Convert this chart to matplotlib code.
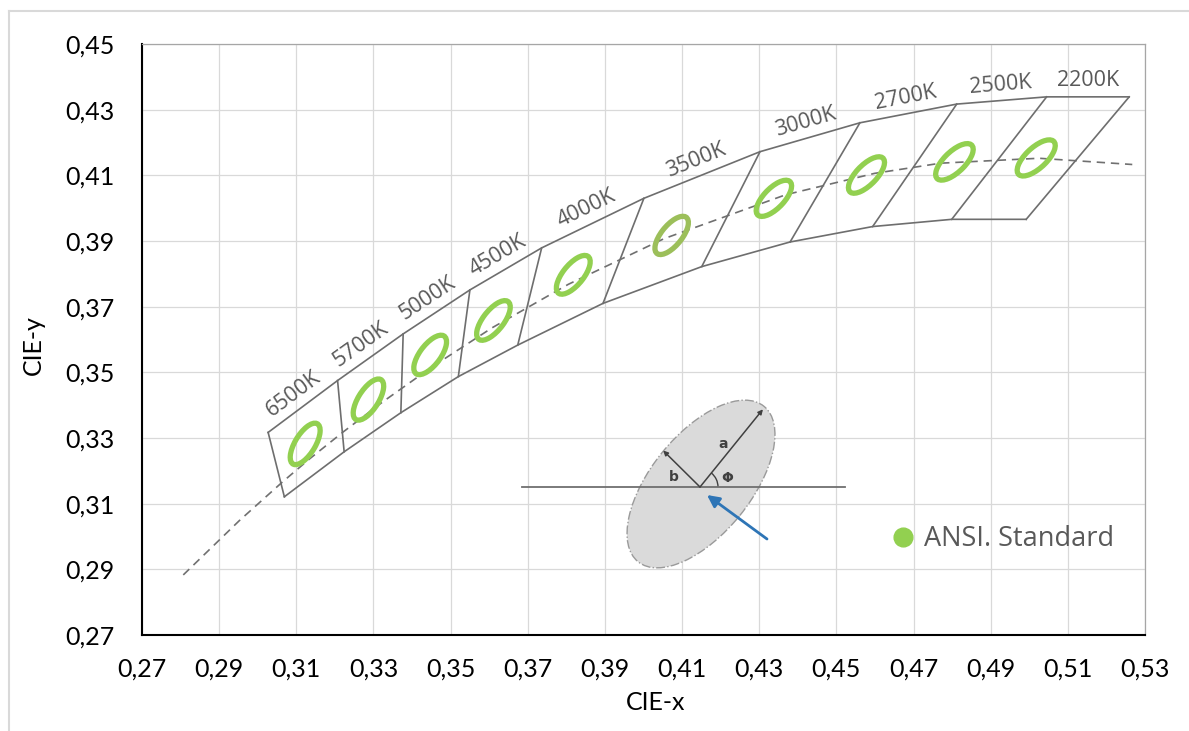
import numpy as np
import matplotlib
matplotlib.use("Agg")
import matplotlib.pyplot as plt
from matplotlib.patches import Ellipse, Arc
from matplotlib.lines import Line2D

# CCT bins (ANSI quadrangles)
cct_labels = ["6500K", "5700K", "5000K", "4500K", "4000K",
              "3500K", "3000K", "2700K", "2500K", "2200K"]

# upper and lower corners of the quadrangles, cold -> warm
top_x = [0.3027, 0.3207, 0.3377, 0.3550, 0.3736, 0.4001, 0.4302, 0.4561, 0.4812, 0.5045, 0.5259]
top_y = [0.3317, 0.3475, 0.3617, 0.3751, 0.3879, 0.4030, 0.4172, 0.4260, 0.4317, 0.4339, 0.4339]
bot_x = [0.3069, 0.3224, 0.3371, 0.3520, 0.3674, 0.3895, 0.4151, 0.4380, 0.4594, 0.4799, 0.4992]
bot_y = [0.3121, 0.3258, 0.3377, 0.3487, 0.3583, 0.3710, 0.3822, 0.3897, 0.3944, 0.3966, 0.3966]

# ellipses: centre, semi axes and tilt (data units / degrees)
ell_x = [0.3123, 0.3287, 0.3447, 0.3611, 0.3818, 0.4073, 0.4338, 0.4578, 0.4806, 0.5018]
ell_y = [0.3282, 0.3417, 0.3553, 0.3658, 0.3797, 0.3917, 0.4030, 0.4101, 0.4141, 0.4153]
ell_a = [0.0069, 0.0069, 0.0068, 0.0069, 0.0068, 0.0067, 0.0066, 0.0067, 0.0068, 0.0068]
ell_b = [0.0027, 0.0027, 0.0028, 0.0028, 0.0028, 0.0028, 0.0028, 0.0028, 0.0029, 0.0029]
ell_ang = [64, 63, 59, 58, 57, 57, 52.5, 52, 50.5, 49.5]
ell_col = ["#92d050"] * 5 + ["#9cbf5a"] + ["#92d050"] * 4

# planckian locus (dashed)
locus_x = [0.2807, 0.2952, 0.3064, 0.3135, 0.3221, 0.3324, 0.3451, 0.3608,
           0.3805, 0.4053, 0.4369, 0.4599, 0.4770, 0.5025, 0.5267]
locus_y = [0.2883, 0.3048, 0.3166, 0.3237, 0.3318, 0.3410, 0.3516, 0.3636,
           0.3768, 0.3907, 0.4041, 0.4106, 0.4137, 0.4152, 0.4133]

x_ticks = [0.27, 0.29, 0.31, 0.33, 0.35, 0.37, 0.39, 0.41, 0.43, 0.45, 0.47, 0.49, 0.51, 0.53]
x_ticklabels = ["0,27", "0,29", "0,31", "0,33", "0,35", "0,37", "0,39",
                "0,41", "0,43", "0,45", "0,47", "0,49", "0,51", "0,53"]
y_ticks = [0.27, 0.29, 0.31, 0.33, 0.35, 0.37, 0.39, 0.41, 0.43, 0.45]
y_ticklabels = ["0,27", "0,29", "0,31", "0,33", "0,35", "0,37", "0,39", "0,41", "0,43", "0,45"]

# schematic ellipse in the inset (pixels): semi axes and angle
sk_a, sk_b, sk_phi = 100, 50, 51

W, H = 1189, 731
fig = plt.figure(figsize=(W / 100, H / 100), dpi=100)
ax = fig.add_axes([142 / W, 1 - 635 / H, 1003 / W, 591 / H])
ax.set_xlim(0.27, 0.53)
ax.set_ylim(0.27, 0.45)
ax.set_xticks(x_ticks)
ax.set_xticklabels(x_ticklabels)
ax.set_yticks(y_ticks)
ax.set_yticklabels(y_ticklabels)
ax.tick_params(length=0, labelsize=18)
ax.tick_params(axis="x", pad=16)
ax.tick_params(axis="y", pad=20)
for lab in ax.get_xticklabels() + ax.get_yticklabels():
    lab.set_family("Lato")
ax.grid(color="#d9d9d9", lw=0.9)
ax.set_axisbelow(True)
for s in ["left", "bottom"]:
    ax.spines[s].set_color("black")
    ax.spines[s].set_linewidth(1.5)
for s in ["top", "right"]:
    ax.spines[s].set_color("#a6a6a6")
    ax.spines[s].set_linewidth(0.9)

# locus
ax.plot(locus_x, locus_y, color="#707070", lw=1.2, ls=(0, (5, 3.5)), zorder=2)

# quadrangles
edge = "#6e6e6e"
ax.plot(top_x, top_y, color=edge, lw=1.2, zorder=3)
ax.plot(bot_x, bot_y, color=edge, lw=1.2, zorder=3)
for i in range(len(top_x)):
    ax.plot([top_x[i], bot_x[i]], [top_y[i], bot_y[i]], color=edge, lw=1.2, zorder=3)

# ellipses
for i in range(len(ell_x)):
    e = Ellipse((ell_x[i], ell_y[i]), 2 * ell_a[i], 2 * ell_b[i], angle=ell_ang[i],
                fill=False, ec=ell_col[i], lw=3.8, zorder=4)
    ax.add_patch(e)

# CCT labels above the top edge
fig.canvas.draw()
for i, lab in enumerate(cct_labels):
    p1 = ax.transData.transform((top_x[i], top_y[i]))
    p2 = ax.transData.transform((top_x[i + 1], top_y[i + 1]))
    ang = np.arctan2(p2[1] - p1[1], p2[0] - p1[0])
    mx = (top_x[i] + top_x[i + 1]) / 2
    my = (top_y[i] + top_y[i + 1]) / 2
    off = 16 * 0.72
    ax.annotate(lab, (mx, my), xytext=(-off * np.sin(ang), off * np.cos(ang)),
                textcoords="offset points", ha="center", va="center",
                rotation=np.degrees(ang), rotation_mode="anchor",
                fontsize=15.5, color="#595959", family="Open Sans", zorder=5)

# legend
h = Line2D([], [], marker="o", ls="", color="#92d050", markersize=13.5)
ax.legend([h], ["ANSI. Standard"], frameon=False, loc="center left",
          bbox_to_anchor=(889 / W, 1 - 539 / H), bbox_transform=fig.transFigure,
          borderpad=0, borderaxespad=0, handlelength=1, handletextpad=0.3,
          prop={"family": "Open Sans", "size": 19.5}, labelcolor="#595959")

# axis titles
fig.text(656 / W, 1 - 703 / H, "CIE-x", ha="center", va="center", fontsize=18, family="Lato")
fig.text(33 / W, 1 - 345 / H, "CIE-y", ha="center", va="center", fontsize=18,
         family="Lato", rotation=90)

# inset schematic of the ellipse parameters
ax2 = fig.add_axes([515 / W, 1 - 575 / H, 335 / W, 185 / H])
ax2.set_xlim(-185, 150)
ax2.set_ylim(-89, 96)
ax2.axis("off")
ax2.add_patch(Ellipse((1, 2), 2 * sk_a, 2 * sk_b, angle=sk_phi, fc="#dadada",
                      ec="#9a9a9a", ls="-.", lw=1.0))
ax2.plot([-178, 145], [-1, -1], color="#6f6f6f", lw=1.3)
phi = np.radians(sk_phi)
arr = dict(arrowstyle="-|>", color="#404040", lw=1.1, mutation_scale=7, shrinkA=0, shrinkB=0)
ax2.annotate("", xy=(sk_a * np.cos(phi), sk_a * np.sin(phi) - 1), xytext=(0, -1), arrowprops=arr)
ax2.annotate("", xy=(-sk_b * np.sin(phi) + 2, sk_b * np.cos(phi) + 4), xytext=(0, -1), arrowprops=arr)
ax2.add_patch(Arc((0, -1), 36, 36, theta1=0, theta2=sk_phi, color="#404040", lw=1.0))
ax2.text(23, 42, "a", fontsize=10, color="#404040", ha="center", va="center", fontweight="bold")
ax2.text(-26, 9, "b", fontsize=10, color="#404040", ha="center", va="center", fontweight="bold")
ax2.text(27, 8, "Φ", fontsize=10, color="#404040", ha="center", va="center", fontweight="bold")
ax2.annotate("", xy=(7, -9), xytext=(67, -53),
             arrowprops=dict(arrowstyle="-|>", color="#2e75b6", lw=2.0,
                             mutation_scale=18, shrinkA=0, shrinkB=0))

# outer chart border
fig.add_artist(Line2D([9 / W, 9 / W], [0, 1 - 11 / H], transform=fig.transFigure,
                      color="#d9d9d9", lw=1.5))
fig.add_artist(Line2D([9 / W, 1], [1 - 11 / H, 1 - 11 / H], transform=fig.transFigure,
                      color="#d9d9d9", lw=1.5))

fig.savefig("out.png", dpi=100)
